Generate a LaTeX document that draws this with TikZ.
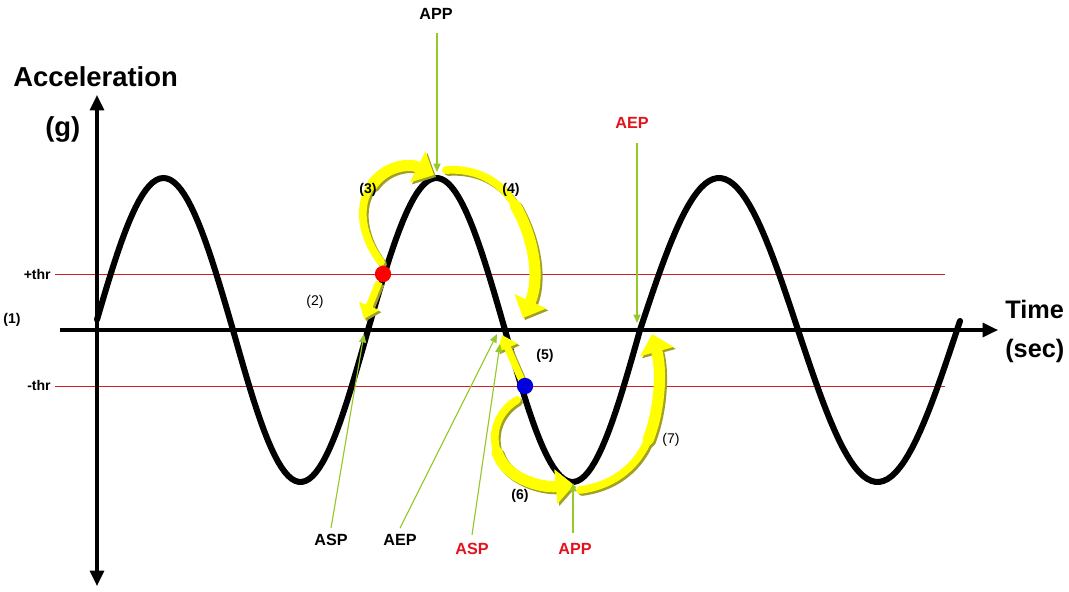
\documentclass[tikz,border=0pt]{standalone}
\usepackage{fontspec}
\setmainfont{Liberation Sans}
\usetikzlibrary{arrows.meta}
\definecolor{lgreen}{RGB}{150,200,40}
\definecolor{yel}{RGB}{255,255,0}
\definecolor{ysh}{RGB}{160,160,40}
\definecolor{thrred}{RGB}{210,30,30}
\definecolor{lblred}{RGB}{225,20,30}
\definecolor{dotred}{RGB}{255,0,0}
\definecolor{dotblue}{RGB}{0,0,220}
\begin{document}
\begin{tikzpicture}[x={(0.025cm,0)}, y={(0,-0.025cm)},
  axisline/.style={line width=2.2pt},
  thrline/.style={thrred, line width=0.7pt},
  wave/.style={line width=4.3pt, line join=round, line cap=round},
  garrow/.style={lgreen, line width=0.8pt, -{Triangle[length=6pt,width=5pt]}},
  ytail/.style={line width=5.5pt, line cap=round},
  yhead/.style={line width=8pt, line cap=round, -{Triangle[length=13pt,width=24pt]}},
  ystraight/.style={line width=5pt, -{Triangle[length=10pt,width=15pt]}},
  biglbl/.style={font=\bfseries\fontsize{19.5}{22}\selectfont, inner sep=0pt, anchor=base west},
  numlbl/.style={font=\bfseries\fontsize{10}{12}\selectfont, inner sep=0pt},
  numlblr/.style={font=\fontsize{10}{12}\selectfont, inner sep=0pt},
  ptlbl/.style={font=\bfseries\fontsize{11.5}{13}\selectfont, inner sep=0pt}
]
\useasboundingbox (0,0) rectangle (1069,591);
\fill[white] (0,0) rectangle (1069,591);

% threshold lines
\coordinate (thrPa) at (55,274);
\coordinate (thrPb) at (945,274);
\coordinate (thrNa) at (55,386);
\coordinate (thrNb) at (945,386);
\draw[thrline] (thrPa) -- (thrPb);
\draw[thrline] (thrNa) -- (thrNb);

% axes
\coordinate (yTop) at (97,95);
\coordinate (yBot) at (97,586);
\coordinate (xL) at (60,330);
\coordinate (xR) at (998,330);
\draw[axisline, {Triangle[length=11pt,width=10pt]}-{Triangle[length=11pt,width=10pt]}] (yBot) -- (yTop);
\draw[axisline, -{Triangle[length=11pt,width=10pt]}] (xL) -- (xR);

% wave
\draw[wave]
  plot[domain=97:233, samples=40] (\x,{330-152*sin((\x-94)/139*180)})
  -- plot[domain=233:368, samples=40] (\x,{330+152*sin((\x-233)/135*180)})
  -- plot[domain=368:505, samples=40] (\x,{330-152*sin((\x-368)/137*180)})
  -- plot[domain=505:640, samples=40] (\x,{330+152*sin((\x-505)/135*180)})
  -- plot[domain=640:798, samples=40] (\x,{330-152*sin((\x-640)/158*180)})
  -- plot[domain=798:957, samples=40] (\x,{330+152*sin((\x-798)/159*180)})
  -- plot[domain=957:960, samples=3] (\x,{330-152*sin((\x-957)/159*180)});

% key points
\coordinate (pk) at (437,172);
\coordinate (tr) at (573,483);
\coordinate (zUp1) at (364,334);
\coordinate (zDn) at (497,334);
\coordinate (zDn2) at (500,344);
\coordinate (zUp2) at (637,323);

% yellow arrows (shadow then body)
\foreach \dd/\cc in {2/ysh,0/yel}{
  \begin{scope}[xshift=\dd*0.025cm, yshift=-\dd*0.025cm, color=\cc]
  % (2)
  \draw[ystraight] (379,282) -- (364,319);
  % (5)
  \draw[ystraight] (522,381) -- (502,335);
  % (3)
  \draw[ytail] (381,262) .. controls (362,238) and (356,205) .. (372,185);
  \draw[yhead] (372,185) .. controls (386,165) and (410,163) .. (434,175);
  % (4)
  \draw[ytail] (446,170) .. controls (475,168) and (500,180) .. (515,205);
  \draw[yhead] (515,205) .. controls (535,240) and (540,280) .. (523,318);
  % (6)
  \draw[ytail] (517,400) .. controls (500,410) and (490,430) .. (497,452);
  \draw[yhead] (497,452) .. controls (505,478) and (540,488) .. (574,485);
  % (7)
  \draw[ytail] (580,490) .. controls (610,486) and (635,470) .. (648,440);
  \draw[yhead] (648,440) .. controls (660,410) and (662,370) .. (652,334);
  \end{scope}
}

% dots
\fill[dotred] (383,274) circle[radius=5.8pt];
\fill[dotblue] (525,386) circle[radius=5.8pt];

% axis labels
\node[biglbl] (acc) at (13,86) {Acceleration};
\node[biglbl] (gl) at (45,136) {(g)};
\node[biglbl, font=\bfseries\fontsize{18}{20}\selectfont] (tl) at (1005,318) {Time};
\node[biglbl, font=\bfseries\fontsize{18}{20}\selectfont] (sl) at (1005,357) {(sec)};

% threshold labels
\node[numlbl, anchor=east] (pthr) at (51,274) {+thr};
\node[numlbl, anchor=east] (nthr) at (51,385) {-thr};

% step labels
\node[numlbl] (n1) at (12,320) {(1)};
\node[numlblr] (n2) at (315,302) {(2)};
\node[numlbl] (n3) at (368,190) {(3)};
\node[numlbl] (n4) at (511,190) {(4)};
\node[numlbl] (n5) at (545,356) {(5)};
\node[numlbl] (n6) at (520,496) {(6)};
\node[numlblr] (n7) at (671,440) {(7)};

% point labels
\node[ptlbl] (appT) at (436,14) {APP};
\node[ptlbl, text=lblred] (aepT) at (632,123) {AEP};
\node[ptlbl] (aspB) at (331,540) {ASP};
\node[ptlbl] (aepB) at (400,540) {AEP};
\node[ptlbl, text=lblred] (aspR) at (472,549) {ASP};
\node[ptlbl, text=lblred] (appR) at (575,549) {APP};

% green arrows
\draw[garrow] (437,33) -- (pk);
\draw[garrow] (637,143) -- (zUp2);
\draw[garrow] (aspB.north) ++(0,-6) -- (zUp1);
\draw[garrow] (aepB.north) ++(0,-6) -- (zDn);
\draw[garrow] (aspR.north) ++(0,-8) -- (zDn2);
\draw[garrow] (appR.north) ++(-2,-10) -- (tr);
\end{tikzpicture}
\end{document}
